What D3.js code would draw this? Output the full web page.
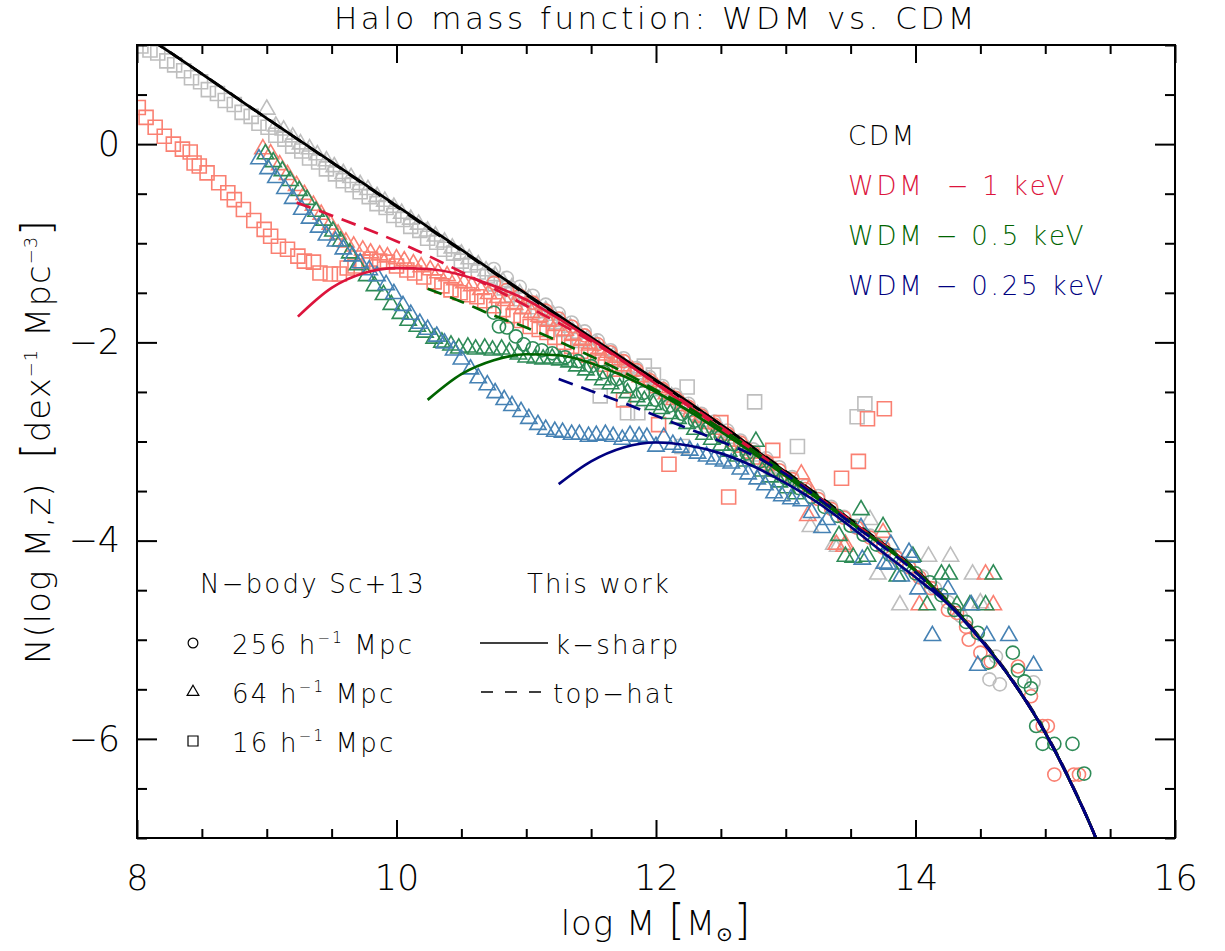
<!DOCTYPE html>
<html>
<head>
<meta charset="utf-8">
<script src="https://cdn.jsdelivr.net/npm/d3@7"></script>
<style>
  body { margin: 0; background: #fff; }
  text { font-family: "DejaVu Sans", sans-serif; font-weight: 200; white-space: pre; }
</style>
</head>
<body>
<svg id="chart" width="1225" height="951"></svg>
<script>

// ---- model curves (this work): k-sharp (solid) and top-hat (dashed) ----
var cdmSharp = [[8.10,1.06],[8.17,1.00],[9,0.26],[10,-0.62],[11,-1.51],[11.5,-1.95],[12,-2.38],[12.5,-2.83],[13,-3.31],[13.5,-3.80],[14,-4.30],[14.25,-4.62],[14.5,-4.99],[14.75,-5.42],[15,-5.94],[15.2,-6.45],[15.39,-7.0],[15.45,-7.2]];
var cdmTophat = [[8.10,1.06],[8.17,1.00],[9,0.26],[10,-0.63],[11,-1.52],[11.5,-1.96],[12,-2.39],[12.5,-2.83],[13,-3.30],[13.5,-3.79],[14,-4.29],[14.25,-4.61],[14.5,-4.98],[14.75,-5.41],[15,-5.93],[15.2,-6.44],[15.39,-7.0],[15.45,-7.2]];
var wdm1Sharp = [[9.24,-1.74],[9.5,-1.45],[9.75,-1.30],[10,-1.25],[10.25,-1.26],[10.5,-1.32],[10.75,-1.43],[11,-1.57],[11.25,-1.76],[11.5,-1.97],[11.75,-2.19],[12,-2.42],[12.5,-2.87],[13,-3.33],[13.5,-3.81],[14,-4.30],[14.25,-4.62],[14.5,-4.99],[14.75,-5.42],[15,-5.94],[15.2,-6.45],[15.39,-7.0],[15.45,-7.2]];
var wdm1Tophat = [[9.23,-0.59],[9.5,-0.72],[10,-0.98],[10.5,-1.29],[11,-1.63],[11.5,-1.99],[12,-2.41],[12.5,-2.85],[13,-3.32],[13.5,-3.80],[14,-4.30],[14.25,-4.62],[14.5,-4.99],[14.75,-5.42],[15,-5.94],[15.2,-6.45],[15.39,-7.0],[15.45,-7.2]];
var wdm05Sharp = [[10.24,-2.58],[10.5,-2.32],[10.75,-2.18],[11,-2.12],[11.25,-2.13],[11.5,-2.21],[11.75,-2.34],[12,-2.50],[12.25,-2.69],[12.5,-2.90],[12.75,-3.12],[13,-3.35],[13.5,-3.82],[14,-4.31],[14.25,-4.62],[14.5,-4.99],[14.75,-5.42],[15,-5.94],[15.2,-6.45],[15.39,-7.0],[15.45,-7.2]];
var wdm05Tophat = [[10.24,-1.46],[10.5,-1.59],[10.75,-1.73],[11,-1.85],[11.25,-1.99],[11.5,-2.14],[11.75,-2.30],[12,-2.48],[12.25,-2.66],[12.5,-2.87],[13,-3.32],[13.5,-3.81],[14,-4.30],[14.25,-4.62],[14.5,-4.99],[14.75,-5.42],[15,-5.94],[15.2,-6.45],[15.39,-7.0],[15.45,-7.2]];
var wdm025Sharp = [[11.25,-3.43],[11.5,-3.20],[11.75,-3.06],[12,-3.01],[12.25,-3.04],[12.5,-3.12],[12.75,-3.25],[13,-3.42],[13.25,-3.62],[13.5,-3.86],[13.75,-4.12],[14,-4.37],[14.25,-4.64],[14.5,-5.00],[14.75,-5.42],[15,-5.94],[15.2,-6.45],[15.39,-7.0],[15.45,-7.2]];
var wdm025Tophat = [[11.25,-2.37],[11.5,-2.49],[11.75,-2.61],[12,-2.74],[12.25,-2.87],[12.5,-3.00],[12.75,-3.14],[13,-3.33],[13.25,-3.57],[13.5,-3.82],[14,-4.32],[14.25,-4.63],[14.5,-4.99],[14.75,-5.42],[15,-5.94],[15.2,-6.45],[15.39,-7.0],[15.45,-7.2]];

// ---- N-body points (Schneider+13) ----
// CDM
var cdmBox256 = [[10.75,-1.26],[10.85,-1.35],[10.95,-1.44],[11.05,-1.53],[11.15,-1.62],[11.25,-1.71],[11.35,-1.80],[11.45,-1.89],[11.55,-1.98],[11.65,-2.08],[11.75,-2.16],[11.85,-2.26],[11.95,-2.35],[12.05,-2.44],[12.15,-2.53],[12.25,-2.62],[12.35,-2.72],[12.45,-2.80],[12.55,-2.89],[12.65,-2.99],[12.75,-3.08],[12.85,-3.17],[12.95,-3.26],[13.05,-3.36],[13.15,-3.45],[13.25,-3.55],[13.35,-3.66],[13.45,-3.76],[13.55,-3.85],[13.65,-3.95],[13.75,-4.06],[13.85,-4.16],[13.95,-4.26],[14.05,-4.36],[14.15,-4.48],[14.25,-4.62],[14.35,-4.76],[14.57,-5.40],[14.65,-5.45],[14.62,-5.17],[14.91,-5.43]];
var cdmBox64 = [[9.00,0.35],[9.07,0.18],[9.13,0.14],[9.20,0.07],[9.26,0.00],[9.33,-0.05],[9.39,-0.11],[9.46,-0.17],[9.52,-0.23],[9.59,-0.30],[9.65,-0.34],[9.72,-0.41],[9.78,-0.46],[9.85,-0.53],[9.91,-0.58],[9.98,-0.64],[10.04,-0.70],[10.11,-0.76],[10.17,-0.81],[10.24,-0.88],[10.30,-0.93],[10.37,-0.99],[10.43,-1.05],[10.50,-1.11],[10.56,-1.16],[10.63,-1.22],[10.69,-1.28],[10.76,-1.33],[10.82,-1.39],[10.89,-1.45],[10.95,-1.51],[11.02,-1.56],[11.08,-1.62],[11.15,-1.68],[11.21,-1.73],[11.28,-1.79],[11.34,-1.85],[11.41,-1.91],[11.47,-1.97],[11.54,-2.02],[11.60,-2.08],[11.67,-2.14],[11.73,-2.20],[11.80,-2.26],[11.86,-2.32],[11.93,-2.38],[11.99,-2.43],[12.06,-2.49],[12.12,-2.55],[12.19,-2.61],[12.25,-2.67],[12.32,-2.73],[12.38,-2.80],[12.45,-2.86],[12.51,-2.91],[12.58,-2.97],[12.64,-3.03],[12.71,-3.09],[12.77,-3.15],[12.84,-3.21],[12.90,-3.27],[13.19,-3.86],[13.37,-4.04],[13.40,-4.06],[13.65,-3.79],[13.71,-4.34],[13.88,-4.65],[14.10,-4.16],[14.27,-4.16],[14.44,-4.34],[14.50,-4.63]];
var cdmBox16 = [[8.03,0.99],[8.10,0.95],[8.16,0.92],[8.23,0.84],[8.29,0.80],[8.36,0.74],[8.42,0.67],[8.49,0.63],[8.55,0.55],[8.62,0.51],[8.68,0.44],[8.75,0.40],[8.81,0.32],[8.88,0.28],[8.94,0.21],[9.01,0.17],[9.07,0.09],[9.14,0.05],[9.20,-0.02],[9.27,-0.07],[9.33,-0.14],[9.40,-0.18],[9.46,-0.25],[9.53,-0.30],[9.59,-0.37],[9.66,-0.41],[9.72,-0.48],[9.79,-0.53],[9.85,-0.60],[9.92,-0.64],[9.98,-0.72],[10.05,-0.76],[10.11,-0.83],[10.18,-0.87],[10.24,-0.95],[10.31,-0.99],[10.37,-1.06],[10.44,-1.10],[10.50,-1.18],[10.57,-1.22],[10.63,-1.29],[10.70,-1.33],[10.76,-1.41],[10.83,-1.45],[10.89,-1.52],[10.96,-1.56],[11.02,-1.64],[11.09,-1.68],[11.15,-1.75],[11.22,-1.79],[11.28,-1.87],[11.35,-1.91],[11.41,-1.98],[11.57,-2.54],[11.78,-2.71],[11.86,-2.71],[11.91,-2.24],[11.98,-2.33],[12.20,-3.05],[12.24,-2.45],[12.76,-2.60],[13.09,-3.05],[13.55,-2.75],[13.61,-2.62]];

// WDM 1 keV
var wdm1Box256 = [[10.75,-1.40],[10.85,-1.47],[10.95,-1.53],[11.05,-1.60],[11.15,-1.68],[11.25,-1.76],[11.35,-1.84],[11.45,-1.93],[11.55,-2.02],[11.65,-2.10],[11.75,-2.19],[11.85,-2.28],[11.95,-2.38],[12.05,-2.47],[12.15,-2.56],[12.25,-2.65],[12.35,-2.74],[12.45,-2.83],[12.55,-2.92],[12.65,-3.01],[12.75,-3.11],[12.85,-3.20],[12.95,-3.29],[13.05,-3.38],[13.15,-3.48],[13.25,-3.58],[13.35,-3.68],[13.45,-3.77],[13.55,-3.87],[13.65,-3.97],[13.75,-4.07],[13.85,-4.17],[13.95,-4.27],[14.03,-4.37],[14.12,-4.48],[14.25,-4.70],[14.32,-4.73],[14.39,-4.87],[14.41,-5.00],[14.50,-5.13],[14.58,-5.22],[14.79,-5.27],[14.89,-5.57],[14.98,-5.87],[15.02,-5.87],[15.07,-6.36],[15.22,-6.36],[15.26,-6.36]];
var wdm1Box64 = [[8.97,-0.05],[9.03,-0.10],[9.10,-0.21],[9.16,-0.31],[9.23,-0.42],[9.29,-0.51],[9.36,-0.62],[9.42,-0.71],[9.49,-0.81],[9.55,-0.91],[9.61,-0.99],[9.67,-1.03],[9.74,-1.07],[9.80,-1.10],[9.87,-1.12],[9.93,-1.14],[10.00,-1.16],[10.06,-1.18],[10.13,-1.21],[10.19,-1.24],[10.26,-1.27],[10.32,-1.30],[10.39,-1.33],[10.45,-1.37],[10.52,-1.40],[10.58,-1.43],[10.65,-1.47],[10.71,-1.51],[10.78,-1.55],[10.84,-1.58],[10.91,-1.62],[10.97,-1.66],[11.04,-1.70],[11.10,-1.74],[11.17,-1.79],[11.23,-1.83],[11.30,-1.88],[11.36,-1.93],[11.43,-1.98],[11.49,-2.03],[11.56,-2.08],[11.62,-2.13],[11.69,-2.18],[11.75,-2.24],[11.82,-2.29],[11.88,-2.35],[11.95,-2.40],[12.01,-2.46],[12.08,-2.52],[12.14,-2.58],[12.21,-2.64],[12.27,-2.70],[12.34,-2.76],[12.40,-2.82],[12.47,-2.88],[12.53,-2.94],[12.60,-3.00],[12.66,-3.06],[12.73,-3.12],[12.79,-3.18],[12.86,-3.24],[12.92,-3.30],[13.12,-3.33],[13.18,-3.48],[13.17,-3.75],[13.39,-4.04],[13.46,-4.04],[13.45,-4.06],[13.75,-3.92],[14.03,-4.65],[14.54,-4.34],[14.60,-4.65]];
var wdm1Box16 = [[8.01,0.37],[8.07,0.27],[8.14,0.17],[8.21,0.08],[8.28,0.00],[8.35,-0.05],[8.41,-0.08],[8.44,-0.19],[8.48,-0.22],[8.54,-0.29],[8.63,-0.39],[8.70,-0.49],[8.75,-0.56],[8.82,-0.66],[8.90,-0.77],[8.98,-0.86],[9.03,-0.93],[9.09,-1.03],[9.16,-1.06],[9.24,-1.13],[9.29,-1.18],[9.36,-1.19],[9.41,-1.30],[9.49,-1.31],[9.56,-1.31],[9.62,-1.25],[9.68,-1.23],[9.74,-1.19],[9.80,-1.16],[9.87,-1.18],[9.93,-1.19],[10.00,-1.23],[10.08,-1.27],[10.14,-1.30],[10.21,-1.34],[10.29,-1.39],[10.35,-1.43],[10.42,-1.47],[10.49,-1.50],[10.55,-1.52],[10.62,-1.54],[10.68,-1.58],[10.75,-1.63],[10.82,-1.67],[10.90,-1.73],[10.96,-1.78],[11.03,-1.84],[11.10,-1.87],[11.16,-1.90],[11.22,-1.95],[11.29,-2.00],[11.35,-2.04],[11.42,-2.09],[11.48,-2.13],[11.55,-2.18],[11.61,-2.22],[11.68,-2.27],[11.75,-2.58],[12.02,-2.83],[12.10,-3.23],[12.50,-2.81],[12.56,-3.56],[12.90,-3.09],[13.43,-3.37],[13.56,-3.20],[13.63,-2.77],[13.76,-2.67]];

// WDM 0.5 keV
var wdm05Box256 = [[10.75,-1.70],[10.79,-1.84],[10.85,-1.85],[10.92,-1.94],[10.98,-2.02],[11.05,-2.06],[11.12,-2.08],[11.20,-2.11],[11.30,-2.15],[11.40,-2.19],[11.50,-2.24],[11.60,-2.30],[11.70,-2.37],[11.80,-2.44],[11.90,-2.51],[12.00,-2.58],[12.10,-2.64],[12.20,-2.72],[12.30,-2.79],[12.40,-2.87],[12.50,-2.95],[12.60,-3.03],[12.70,-3.12],[12.80,-3.20],[12.90,-3.29],[13.00,-3.37],[13.10,-3.47],[13.20,-3.56],[13.30,-3.66],[13.40,-3.75],[13.50,-3.85],[13.60,-3.94],[13.70,-4.04],[13.80,-4.14],[13.90,-4.24],[14.00,-4.33],[14.11,-4.42],[14.20,-4.55],[14.30,-4.70],[14.39,-4.82],[14.48,-4.93],[14.56,-5.23],[14.75,-5.13],[14.79,-5.31],[14.84,-5.42],[14.89,-5.49],[14.93,-5.87],[14.98,-6.05],[15.07,-6.05],[15.21,-6.05],[15.30,-6.35]];
var wdm05Box64 = [[8.99,-0.10],[9.05,-0.18],[9.12,-0.27],[9.18,-0.37],[9.25,-0.47],[9.31,-0.56],[9.38,-0.68],[9.44,-0.77],[9.51,-0.88],[9.57,-0.98],[9.64,-1.10],[9.70,-1.22],[9.77,-1.33],[9.83,-1.43],[9.90,-1.52],[9.96,-1.62],[10.03,-1.71],[10.09,-1.78],[10.16,-1.84],[10.22,-1.90],[10.29,-1.96],[10.35,-2.00],[10.42,-2.03],[10.48,-2.06],[10.55,-2.05],[10.61,-2.07],[10.68,-2.06],[10.74,-2.08],[10.81,-2.07],[10.87,-2.10],[10.94,-2.12],[11.00,-2.15],[11.07,-2.16],[11.13,-2.17],[11.20,-2.16],[11.26,-2.18],[11.33,-2.20],[11.39,-2.24],[11.46,-2.28],[11.52,-2.33],[11.59,-2.38],[11.65,-2.42],[11.72,-2.46],[11.78,-2.51],[11.85,-2.55],[11.91,-2.59],[11.98,-2.63],[12.04,-2.67],[12.11,-2.72],[12.17,-2.77],[12.24,-2.82],[12.30,-2.88],[12.37,-2.93],[12.43,-2.98],[12.50,-3.04],[12.56,-3.10],[12.63,-3.15],[12.69,-3.20],[12.77,-3.00],[12.82,-3.30],[12.88,-3.36],[12.95,-3.41],[13.01,-3.47],[13.08,-3.53],[13.41,-3.95],[13.46,-4.16],[13.52,-4.17],[13.58,-3.69],[13.63,-4.16],[13.75,-3.86],[13.86,-4.36],[13.98,-4.16],[14.09,-4.65],[14.20,-4.34],[14.26,-4.34],[14.32,-4.65],[14.42,-4.65],[14.54,-4.65],[14.60,-4.34]];

// WDM 0.25 keV
var wdm025Box64 = [[8.94,-0.15],[9.01,-0.25],[9.07,-0.34],[9.14,-0.45],[9.20,-0.55],[9.27,-0.66],[9.33,-0.75],[9.40,-0.84],[9.46,-0.92],[9.53,-0.98],[9.59,-1.06],[9.66,-1.13],[9.72,-1.20],[9.79,-1.27],[9.85,-1.33],[9.92,-1.42],[9.98,-1.51],[10.05,-1.63],[10.11,-1.72],[10.18,-1.81],[10.24,-1.87],[10.31,-1.94],[10.37,-2.01],[10.44,-2.08],[10.50,-2.17],[10.57,-2.27],[10.63,-2.36],[10.70,-2.43],[10.76,-2.51],[10.83,-2.58],[10.89,-2.64],[10.96,-2.70],[11.02,-2.77],[11.09,-2.83],[11.15,-2.88],[11.22,-2.90],[11.28,-2.91],[11.35,-2.93],[11.41,-2.93],[11.48,-2.95],[11.54,-2.94],[11.61,-2.93],[11.67,-2.95],[11.74,-2.98],[11.80,-2.94],[11.87,-2.95],[11.93,-2.96],[12.00,-3.05],[12.06,-2.96],[12.13,-3.03],[12.19,-3.06],[12.26,-3.09],[12.32,-3.12],[12.39,-3.15],[12.45,-3.18],[12.52,-3.20],[12.58,-3.22],[12.65,-3.28],[12.71,-3.33],[12.78,-3.38],[12.84,-3.44],[12.91,-3.52],[12.97,-3.55],[13.04,-3.58],[13.12,-3.60],[13.20,-3.72],[13.28,-3.87],[13.32,-3.79],[13.58,-3.87],[13.59,-4.19],[13.76,-4.23],[13.79,-4.24],[13.81,-4.04],[13.89,-4.36],[13.95,-4.12],[13.97,-4.17],[14.02,-4.49],[14.25,-4.49],[14.43,-4.65],[14.13,-4.96],[14.55,-4.96],[14.72,-4.96],[14.48,-5.26],[14.91,-5.26]];

var xTicksMajor = [8, 10, 12, 14, 16];
var yTicksMajor = [-6, -4, -2, 0];
var cosmoNames = ["CDM", "WDM  \u2212 1 keV", "WDM \u2212 0.5 keV", "WDM \u2212 0.25 keV"];

var lineColors = ["#000000", "#dc143c", "#006400", "#000080"];
var pointColors = ["#bebebe", "#fa8072", "#2e8b57", "#4682b4"];

var svg = d3.select("#chart");
var W = 1225, H = 951;
var x0 = 137, x1 = 1175, y0 = 45, y1 = 838;

var x = d3.scaleLinear().domain([8, 16]).range([x0, x1]);
var y = d3.scaleLinear().domain([-7, 1]).range([y1, y0]);

svg.append("rect").attr("width", W).attr("height", H).attr("fill", "#fff");

svg.append("clipPath").attr("id", "plotClip")
    .append("rect").attr("x", x0).attr("y", y0).attr("width", x1 - x0).attr("height", y1 - y0);

var plot = svg.append("g").attr("clip-path", "url(#plotClip)");

// markers first, curves on top
var markerSets = [
    { data: cdmBox256, shape: d3.symbolCircle, color: pointColors[0] },
    { data: cdmBox64, shape: d3.symbolTriangle, color: pointColors[0] },
    { data: cdmBox16, shape: d3.symbolSquare, color: pointColors[0] },
    { data: wdm1Box256, shape: d3.symbolCircle, color: pointColors[1] },
    { data: wdm1Box64, shape: d3.symbolTriangle, color: pointColors[1] },
    { data: wdm1Box16, shape: d3.symbolSquare, color: pointColors[1] },
    { data: wdm05Box256, shape: d3.symbolCircle, color: pointColors[2] },
    { data: wdm05Box64, shape: d3.symbolTriangle, color: pointColors[2] },
    { data: wdm025Box64, shape: d3.symbolTriangle, color: pointColors[3] }
];

function symbolSize(shape) {
    if (shape === d3.symbolCircle) return 135;
    if (shape === d3.symbolSquare) return 196;
    return 115;
}

markerSets.forEach(function(s) {
    var sym = d3.symbol().type(s.shape).size(symbolSize(s.shape));
    plot.append("g")
        .selectAll("path")
        .data(s.data)
        .enter().append("path")
        .attr("d", sym)
        .attr("transform", function(d) { return "translate(" + x(d[0]) + "," + y(d[1]) + ")"; })
        .attr("fill", "none")
        .attr("stroke", s.color)
        .attr("stroke-width", 1.6);
});

var curves = [
    { data: cdmSharp, color: lineColors[0], dash: null },
    { data: cdmTophat, color: lineColors[0], dash: "15,9" },
    { data: wdm1Sharp, color: lineColors[1], dash: null },
    { data: wdm1Tophat, color: lineColors[1], dash: "15,9" },
    { data: wdm05Sharp, color: lineColors[2], dash: null },
    { data: wdm05Tophat, color: lineColors[2], dash: "15,9" },
    { data: wdm025Sharp, color: lineColors[3], dash: null },
    { data: wdm025Tophat, color: lineColors[3], dash: "15,9" }
];

var line = d3.line()
    .x(function(d) { return x(d[0]); })
    .y(function(d) { return y(d[1]); })
    .curve(d3.curveMonotoneX);

curves.forEach(function(c) {
    plot.append("path")
        .datum(c.data)
        .attr("d", line)
        .attr("fill", "none")
        .attr("stroke", c.color)
        .attr("stroke-width", 2.7)
        .attr("stroke-dasharray", c.dash);
});

// axes: ticks point inward on all four sides
function fmt(d) { return d < 0 ? "\u2212" + Math.abs(d) : String(d); }

var minorX = d3.range(8, 16.01, 0.5).filter(function(v) { return xTicksMajor.indexOf(v) < 0; });
var minorY = d3.range(-7, 1.01, 0.5).filter(function(v) { return yTicksMajor.indexOf(v) < 0; });

function drawAxis(axis, tr, labels) {
    var g = svg.append("g").attr("transform", tr).call(axis);
    g.select(".domain").remove();
    g.selectAll(".tick line").attr("stroke", "#000").attr("stroke-width", 2);
    if (!labels) {
        g.selectAll(".tick text").remove();
    } else {
        g.selectAll(".tick text")
            .attr("fill", "#000")
            .style("font-family", "DejaVu Sans")
            .style("font-weight", 200)
            .style("font-size", "35px");
    }
    return g;
}

drawAxis(d3.axisBottom(x).tickValues(xTicksMajor).tickSize(-18).tickPadding(27).tickFormat(fmt), "translate(0," + y1 + ")", true);
drawAxis(d3.axisBottom(x).tickValues(minorX).tickSize(-9), "translate(0," + y1 + ")", false);
drawAxis(d3.axisTop(x).tickValues(xTicksMajor).tickSize(-18), "translate(0," + y0 + ")", false);
drawAxis(d3.axisTop(x).tickValues(minorX).tickSize(-9), "translate(0," + y0 + ")", false);
drawAxis(d3.axisLeft(y).tickValues(yTicksMajor).tickSize(-20).tickPadding(17).tickFormat(fmt), "translate(" + x0 + ",0)", true);
drawAxis(d3.axisLeft(y).tickValues(minorY).tickSize(-10), "translate(" + x0 + ",0)", false);
drawAxis(d3.axisRight(y).tickValues(yTicksMajor).tickSize(-20), "translate(" + x1 + ",0)", false);
drawAxis(d3.axisRight(y).tickValues(minorY).tickSize(-10), "translate(" + x1 + ",0)", false);

svg.append("rect")
    .attr("x", x0).attr("y", y0).attr("width", x1 - x0).attr("height", y1 - y0)
    .attr("fill", "none").attr("stroke", "#000").attr("stroke-width", 2);

// title and axis labels
svg.append("text")
    .attr("x", (x0 + x1) / 2).attr("y", 29)
    .attr("text-anchor", "middle")
    .style("font-size", "31px").style("letter-spacing", "3.5px")
    .text("Halo mass function: WDM vs. CDM");

var xl = svg.append("text")
    .attr("x", (x0 + x1) / 2).attr("y", 935)
    .attr("text-anchor", "middle")
    .style("font-size", "34px").style("letter-spacing", "1px");
xl.append("tspan").text("log M ");
xl.append("tspan").style("font-size", "42px").text("[");
xl.append("tspan").text("M");
xl.append("tspan").attr("dy", 6).style("font-size", "20px").text("\u2299");
xl.append("tspan").attr("dy", -6).style("font-size", "42px").text("]");

var yl = svg.append("text")
    .attr("transform", "translate(50," + (y0 + y1) / 2 + ") rotate(-90)")
    .attr("text-anchor", "middle")
    .style("font-size", "34px").style("letter-spacing", "1px");
yl.append("tspan").text("N(log M,z)  ");
yl.append("tspan").style("font-size", "40px").text("[");
yl.append("tspan").text("dex");
yl.append("tspan").attr("dy", -13).style("font-size", "18px").text("\u22121");
yl.append("tspan").attr("dy", 13).text(" Mpc");
yl.append("tspan").attr("dy", -13).style("font-size", "18px").text("\u22123");
yl.append("tspan").attr("dy", 13).style("font-size", "40px").text("]");

// cosmology legend (top right)
var legTop = svg.append("g");
cosmoNames.forEach(function(name, i) {
    legTop.append("text")
        .attr("x", 848).attr("y", 145 + i * 50)
        .attr("fill", lineColors[i])
        .style("font-size", "26px").style("letter-spacing", "2.8px")
        .text(name);
});

// simulation / model legend (bottom left)
var legBot = svg.append("g").style("font-size", "26px").style("letter-spacing", "2.2px");
legBot.append("text").attr("x", 200).attr("y", 593).text("N\u2212body Sc+13");
legBot.append("text").attr("x", 527).attr("y", 593).text("This work");

var boxes = [
    { shape: d3.symbolCircle, size: 75, box: "256" },
    { shape: d3.symbolTriangle, size: 60, box: "64" },
    { shape: d3.symbolSquare, size: 100, box: "16" }
];
boxes.forEach(function(b, i) {
    var cy = 643 + i * 49;
    legBot.append("path")
        .attr("d", d3.symbol().type(b.shape).size(b.size))
        .attr("transform", "translate(193," + cy + ")")
        .attr("fill", "none").attr("stroke", "#000").attr("stroke-width", 1.2);
    var t = legBot.append("text").attr("x", 232).attr("y", cy + 11);
    t.append("tspan").text(b.box + " h");
    t.append("tspan").attr("dy", -11).style("font-size", "15px").text("\u22121");
    t.append("tspan").attr("dy", 11).text(" Mpc");
});

legBot.append("line").attr("x1", 480).attr("x2", 548).attr("y1", 643).attr("y2", 643)
    .attr("stroke", "#000").attr("stroke-width", 1.5);
legBot.append("text").attr("x", 555).attr("y", 654).text("k\u2212sharp");
legBot.append("line").attr("x1", 481).attr("x2", 541).attr("y1", 692).attr("y2", 692)
    .attr("stroke", "#000").attr("stroke-width", 1.5).attr("stroke-dasharray", "12,12");
legBot.append("text").attr("x", 553).attr("y", 703).text("top\u2212hat");

</script>
</body>
</html>
